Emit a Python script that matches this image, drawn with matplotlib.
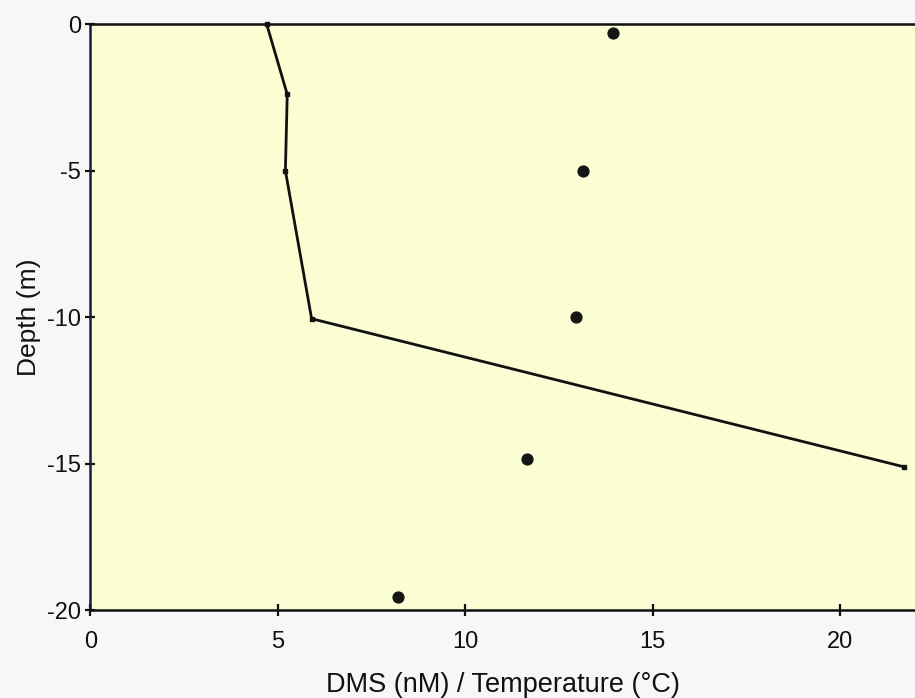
import matplotlib
matplotlib.use("Agg")
import matplotlib.pyplot as plt

plt.rcParams['font.family'] = ['Liberation Sans', 'DejaVu Sans']

# DMS concentration profile (connected line) versus depth
dms_values = [4.7, 5.25, 5.2, 5.9, 21.7]
dms_depths = [0.0, -2.4, -5.0, -10.05, -15.1]

# Water temperature profile (dots) versus depth
temp_values = [13.95, 13.15, 12.95, 11.65, 8.2]
temp_depths = [-0.3, -5.0, -10.0, -14.85, -19.55]

x_ticks = [0, 5, 10, 15, 20]
y_ticks = [0, -5, -10, -15, -20]

fig = plt.figure(figsize=(9.15, 6.98), dpi=100)
fig.patch.set_facecolor('#f7f7f7')
ax = fig.add_axes([0.0989, 0.1254, 0.9011, 0.8402])
ax.set_facecolor('#fbfdd2')

ax.plot(dms_values, dms_depths, color='#111111', linewidth=2.0,
        marker='s', markersize=3.2, zorder=3, clip_on=False)
ax.plot(temp_values, temp_depths, linestyle='none', marker='o',
        markersize=7.8, color='#151515', zorder=4, clip_on=False)

ax.set_xlim(0, 22)
ax.set_ylim(-20, 0)
ax.set_xticks(x_ticks)
ax.set_yticks(y_ticks)
ax.set_xticklabels([str(v) for v in x_ticks])
ax.set_yticklabels([str(v) for v in y_ticks])

for side in ('top', 'bottom'):
    ax.spines[side].set_color('#111111')
    ax.spines[side].set_linewidth(1.8)
ax.spines['left'].set_color('#1a1a40')
ax.spines['left'].set_linewidth(1.8)
ax.spines['right'].set_visible(False)

ax.tick_params(axis='x', direction='inout', length=9, width=1.6,
               labelsize=17, pad=10, colors='#111111')
ax.tick_params(axis='y', direction='inout', length=7, width=1.6,
               labelsize=17, pad=3.5, colors='#111111')

ax.set_xlabel('DMS (nM) / Temperature (°C)', fontsize=19.5, labelpad=14,
              color='#111111')
ax.set_ylabel('Depth (m)', fontsize=19, labelpad=4.5, color='#111111')

fig.savefig('out.png', dpi=100, facecolor=fig.get_facecolor())
